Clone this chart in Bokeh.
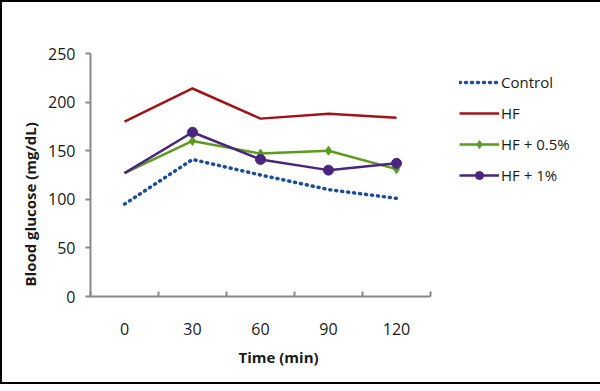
from bokeh.plotting import figure
from bokeh.models import Legend, LegendItem, FixedTicker, Range1d, Title
from bokeh.embed import file_html
from bokeh.resources import INLINE

time_min = [0, 30, 60, 90, 120]
control = [95, 141, 125, 110, 101]
hf = [180, 214, 183, 188, 184]
hf_05 = [127, 160, 147, 150, 131]
hf_1 = [127, 169, 141, 130, 137]
y_ticks = [0, 50, 100, 150, 200, 250]
bounds = [-15, 15, 45, 75, 105, 135]

FONT = "Open Sans"

p = figure(frame_width=340, frame_height=243, output_backend="svg", toolbar_location=None,
           x_range=Range1d(-15, 135), y_range=Range1d(0, 250),
           min_border_left=88, min_border_top=51, min_border_bottom=86, min_border_right=20)
p.outline_line_color = None
p.grid.visible = False
p.background_fill_color = "white"

p.xaxis.ticker = FixedTicker(ticks=time_min, minor_ticks=bounds)
p.xaxis.minor_tick_in = 5
p.xaxis.minor_tick_out = 0
p.xaxis.minor_tick_line_color = "#888888"
p.xaxis.minor_tick_line_width = 2
p.xaxis.major_label_standoff = 20

p.yaxis.ticker = FixedTicker(ticks=y_ticks)
p.yaxis.minor_tick_line_color = None
p.yaxis.major_tick_in = 0
p.yaxis.major_tick_out = 5
p.yaxis.major_label_standoff = 10

for ax in (p.xaxis, p.yaxis):
    ax.axis_line_color = "#888888"
    ax.axis_line_width = 2
    ax.major_tick_line_width = 2
    ax.major_label_text_font = FONT
    ax.major_label_text_font_size = "16px"
    ax.major_label_text_color = "#1a1a1a"
p.yaxis.major_tick_line_color = "#888888"
p.xaxis.major_tick_line_color = None

ylab = Title(text="Blood glucose  (mg/dL)", align="left", offset=10, standoff=12,
             text_font=FONT, text_font_size="15px", text_font_style="bold",
             text_color="#1a1a1a")
xlab = Title(text="Time (min)", align="left", offset=148, standoff=15,
             text_font=FONT, text_font_size="15px", text_font_style="bold",
             text_color="#1a1a1a")
p.add_layout(ylab, "left")
p.add_layout(xlab, "below")

r_c = p.line(time_min, control, line_color="#1a4d9c", line_width=3.5,
             line_dash="1 5", line_cap="round")
r_hf = p.line(time_min, hf, line_color="#a01418", line_width=2.5)
r_g = p.line(time_min, hf_05, line_color="#5b9c1c", line_width=2.5)
r_gm = p.scatter(time_min[1:], hf_05[1:], marker="diamond", size=9,
                 fill_color="#5b9c1c", line_color="#5b9c1c")
r_p = p.line(time_min, hf_1, line_color="#4a2580", line_width=2.5)
r_pm = p.scatter(time_min[1:], hf_1[1:], marker="circle", size=10,
                 fill_color="#4a2580", line_color="#4a2580")

legend = Legend(items=[
    LegendItem(label="Control", renderers=[r_c]),
    LegendItem(label="HF", renderers=[r_hf]),
    LegendItem(label="HF + 0.5%", renderers=[r_g, r_gm]),
    LegendItem(label="HF + 1%", renderers=[r_p, r_pm]),
], location="top_left")
legend.border_line_color = None
legend.background_fill_alpha = 0
legend.label_text_font = FONT
legend.label_text_font_size = "15px"
legend.label_text_color = "#1a1a1a"
legend.glyph_width = 40
legend.glyph_height = 20
legend.label_height = 20
legend.spacing = 11
legend.padding = 0
legend.margin = 20
legend.label_standoff = 2
legend.location = (29, 111)
p.add_layout(legend, "right")

p.styles = {"border": "2px solid black"}

open("out.html", "w").write(file_html(p, INLINE))
